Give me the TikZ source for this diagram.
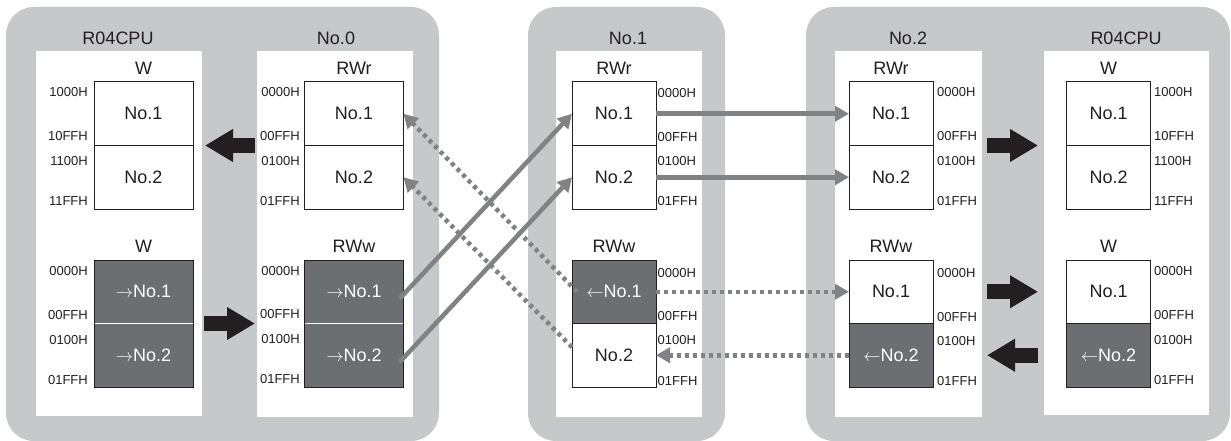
\documentclass[tikz,border=0pt]{standalone}
\usepackage{fontspec}
\setmainfont{Liberation Sans}
\usetikzlibrary{arrows.meta}
\definecolor{panelgray}{HTML}{C7C8CA}
\definecolor{darkcell}{HTML}{6D6E71}
\definecolor{linkgray}{HTML}{808285}
\definecolor{ink}{HTML}{231F20}
\begin{document}
\begin{tikzpicture}[x=1pt,y=-1pt,
  panel/.style={fill=panelgray, rounded corners=28pt},
  inner/.style={fill=white, inner sep=0pt, outer sep=0pt},
  cell/.style={draw=ink, line width=1pt, fill=white, minimum height=63.5pt, inner sep=0pt, outer sep=0pt, font=\fontsize{18}{20}\selectfont, text=ink},
  wide/.style={minimum width=99pt},
  narrow/.style={minimum width=84pt},
  dark/.style={fill=darkcell, text=white},
  addr/.style={inner sep=0pt, font=\fontsize{13}{15}\selectfont, text=ink},
  head/.style={inner sep=0pt, font=\fontsize{18}{20}\selectfont, text=ink, anchor=south},
  title/.style={inner sep=0pt, font=\fontsize{18}{20}\selectfont, text=ink, anchor=base},
  link/.style={draw=linkgray, line width=4.5pt, -{Triangle[length=14pt,width=15pt]}},
  dotlink/.style={link, line width=4.5pt, dash pattern=on 4pt off 4pt},
  bigarrow/.style={draw=ink, line width=15pt, -{Triangle[length=28pt,width=31pt]}}
]
\useasboundingbox (0,0) rectangle (1231,441);
% gray panels
\fill[panel] (6,7) rectangle (439,441);
\fill[panel] (528,7) rectangle (725,441);
\fill[panel] (806,7) rectangle (1230,441);
% white panels
\node[inner, minimum width=166pt, minimum height=365pt] (wA) at (119,233.5) {};
\node[inner, minimum width=156pt, minimum height=366pt] (wB) at (335,234) {};
\node[inner, minimum width=146pt, minimum height=366pt] (wC) at (629,234) {};
\node[inner, minimum width=147pt, minimum height=366pt] (wD) at (908.5,234) {};
\node[inner, minimum width=165pt, minimum height=364pt] (wE) at (1126.5,233) {};
% titles
\node[title] (tA) at (118,45) {R04CPU};
\node[title] (tB) at (336,45) {No.0};
\node[title] (tC) at (628,45) {No.1};
\node[title] (tD) at (908,45) {No.2};
\node[title] (tE) at (1126,45) {R04CPU};
% cells P1 left
\node[cell,wide] (a1) at (143.5,113.75) {No.1};
\node[cell,wide] (a2) at (143.5,177.25) {No.2};
\node[cell,wide,dark] (a3) at (143.5,291.75) {$\rightarrow$No.1};
\node[cell,wide,dark] (a4) at (143.5,355.25) {$\rightarrow$No.2};
% cells P1 right
\node[cell,wide] (b1) at (354,113.75) {No.1};
\node[cell,wide] (b2) at (354,177.25) {No.2};
\node[cell,wide,dark] (b3) at (354,291.75) {$\rightarrow$No.1};
\node[cell,wide,dark] (b4) at (354,355.25) {$\rightarrow$No.2};
% cells P2
\node[cell,narrow] (c1) at (614,113.75) {No.1};
\node[cell,narrow] (c2) at (614,177.25) {No.2};
\node[cell,narrow,dark] (c3) at (614,291.75) {$\leftarrow$No.1};
\node[cell,narrow] (c4) at (614,355.25) {No.2};
% cells P3 left
\node[cell,narrow] (d1) at (891,113.75) {No.1};
\node[cell,narrow] (d2) at (891,177.25) {No.2};
\node[cell,narrow] (d3) at (891,291.75) {No.1};
\node[cell,narrow,dark] (d4) at (891,355.25) {$\leftarrow$No.2};
% cells P3 right
\node[cell,narrow] (e1) at (1108.5,113.75) {No.1};
\node[cell,narrow] (e2) at (1108.5,177.25) {No.2};
\node[cell,narrow] (e3) at (1108.5,291.75) {No.1};
\node[cell,narrow,dark] (e4) at (1108.5,355.25) {$\leftarrow$No.2};
% white dividers between dark cells
\draw[white, line width=1.6pt] ([xshift=0.5pt]a3.south west) -- ([xshift=-0.5pt]a3.south east);
\draw[white, line width=1.6pt] ([xshift=0.5pt]b3.south west) -- ([xshift=-0.5pt]b3.south east);
% block headers
\node[head] (ha1) at ([yshift=7.5pt]a1.north) {W};
\node[head] (ha3) at ([yshift=7.5pt]a3.north) {W};
\node[head] (hb1) at ([yshift=7.5pt]b1.north) {RWr};
\node[head] (hb3) at ([yshift=7.5pt]b3.north) {RWw};
\node[head] (hc1) at ([yshift=7.5pt]c1.north) {RWr};
\node[head] (hc3) at ([yshift=7.5pt]c3.north) {RWw};
\node[head] (hd1) at ([yshift=7.5pt]d1.north) {RWr};
\node[head] (hd3) at ([yshift=7.5pt]d3.north) {RWw};
\node[head] (he1) at ([yshift=7.5pt]e1.north) {W};
\node[head] (he3) at ([yshift=7.5pt]e3.north) {W};
% addresses P1 left
\node[addr, anchor=east] (xa1) at (88,92) {1000H};
\node[addr, anchor=east] (xa2) at (88,136) {10FFH};
\node[addr, anchor=east] (xa3) at (88,161) {1100H};
\node[addr, anchor=east] (xa4) at (88,201) {11FFH};
\node[addr, anchor=east] (xa5) at (88,271) {0000H};
\node[addr, anchor=east] (xa6) at (88,315) {00FFH};
\node[addr, anchor=east] (xa7) at (88,340) {0100H};
\node[addr, anchor=east] (xa8) at (88,380) {01FFH};
% addresses P1 right
\node[addr, anchor=east] (xb1) at (300,92) {0000H};
\node[addr, anchor=east] (xb2) at (300,136) {00FFH};
\node[addr, anchor=east] (xb3) at (300,161) {0100H};
\node[addr, anchor=east] (xb4) at (300,201) {01FFH};
\node[addr, anchor=east] (xb5) at (300,271) {0000H};
\node[addr, anchor=east] (xb6) at (300,314) {00FFH};
\node[addr, anchor=east] (xb7) at (300,339) {0100H};
\node[addr, anchor=east] (xb8) at (300,379) {01FFH};
% addresses P2
\node[addr, anchor=west] (xc1) at (657.5,93) {0000H};
\node[addr, anchor=west] (xc2) at (657.5,137) {00FFH};
\node[addr, anchor=west] (xc3) at (657.5,161) {0100H};
\node[addr, anchor=west] (xc4) at (657.5,201) {01FFH};
\node[addr, anchor=west] (xc5) at (657.5,273) {0000H};
\node[addr, anchor=west] (xc6) at (657.5,316) {00FFH};
\node[addr, anchor=west] (xc7) at (657.5,340) {0100H};
\node[addr, anchor=west] (xc8) at (657.5,381) {01FFH};
% addresses P3 left
\node[addr, anchor=west] (xd1) at (937,92) {0000H};
\node[addr, anchor=west] (xd2) at (937,136) {00FFH};
\node[addr, anchor=west] (xd3) at (937,161) {0100H};
\node[addr, anchor=west] (xd4) at (937,201) {01FFH};
\node[addr, anchor=west] (xd5) at (937,273) {0000H};
\node[addr, anchor=west] (xd6) at (937,317) {00FFH};
\node[addr, anchor=west] (xd7) at (937,341) {0100H};
\node[addr, anchor=west] (xd8) at (937,381) {01FFH};
% addresses P3 right
\node[addr, anchor=west] (xe1) at (1154,92) {1000H};
\node[addr, anchor=west] (xe2) at (1154,136) {10FFH};
\node[addr, anchor=west] (xe3) at (1154,161) {1100H};
\node[addr, anchor=west] (xe4) at (1154,201) {11FFH};
\node[addr, anchor=west] (xe5) at (1154,271) {0000H};
\node[addr, anchor=west] (xe6) at (1154,315) {00FFH};
\node[addr, anchor=west] (xe7) at (1154,340) {0100H};
\node[addr, anchor=west] (xe8) at (1154,380) {01FFH};
% big black arrows
\draw[bigarrow, shorten <=2pt, shorten >=3pt] (wB.west |- b1.south) -- (wA.east |- b1.south);
\draw[bigarrow, shorten <=2pt, shorten >=2pt] (wA.east |- a3.south) -- (wB.west |- a3.south);
\draw[bigarrow, shorten <=5pt, shorten >=6pt] (wD.east |- d1.south) -- (wE.west |- d1.south);
\draw[bigarrow, shorten <=5pt, shorten >=6pt] (wD.east |- d3.center) -- (wE.west |- d3.center);
\draw[bigarrow, shorten <=6pt, shorten >=5pt] (wE.west |- d4.center) -- (wD.east |- d4.center);
% gray links
\draw[link] ([xshift=-4pt,yshift=-7pt]b3.east) -- (c1.west);
\draw[link] ([xshift=-4pt,yshift=-7pt]b4.east) -- (c2.west);
\draw[link] (c1.east) -- (d1.west);
\draw[link] (c2.east) -- (d2.west);
\draw[dotlink] ([xshift=5pt]c3.west) -- (b1.east);
\draw[dotlink] ([yshift=8pt]c4.west) -- (b2.east);
\draw[dotlink] (c3.east) -- (d3.west);
\draw[dotlink] (d4.west) -- (c4.east);
\end{tikzpicture}
\end{document}
